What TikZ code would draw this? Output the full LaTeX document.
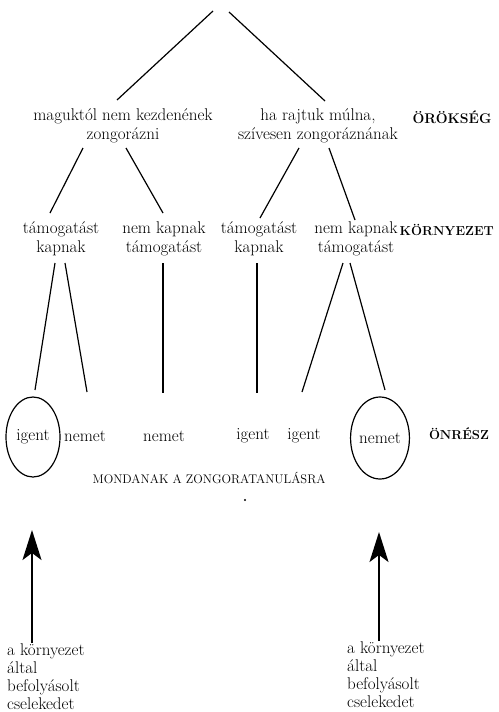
\documentclass[tikz,border=0pt]{standalone}
\usepackage{tikz}
\usetikzlibrary{shapes.geometric,arrows.meta}
\tikzstyle{txt} = [inner sep=0pt, align=center, font=\fontsize{17}{19}\selectfont]
\tikzstyle{lvl} = [inner sep=0pt, font=\bfseries\fontsize{13}{16}\selectfont]
\tikzstyle{line} = [draw, line width=1.2pt]
\tikzstyle{arrow} = [draw, line width=1.6pt, -{Stealth[length=30pt,width=19pt,inset=7pt]}]

\begin{document}
\begin{tikzpicture}[x=1pt, y=-1pt]
        \useasboundingbox (0,0) rectangle (498,712);
        % top
        \coordinate (Ta) at (213,11);
        \coordinate (Tb) at (229,12);
        \node (Mag) [txt] at (123,126) {maguktól nem kezdenének\\zongorázni};
        \node (Ha) [txt] at (318,126) {ha rajtuk múlna,\\szívesen zongoráznának};
        \node (Orok) [lvl, font=\bfseries\fontsize{14}{16}\selectfont] at (452,117) {ÖRÖKSÉG};

        \node (K1) [txt] at (61,239) {támogatást\\kapnak};
        \node (K2) [txt] at (164,239) {nem kapnak\\támogatást};
        \node (K3) [txt] at (259,239) {támogatást\\kapnak};
        \node (K4) [txt] at (356,239) {nem kapnak\\támogatást};
        \node (Korny) [lvl, anchor=east] at (494,230) {KÖRNYEZET};

        \node (I1) [txt, ellipse, draw, line width=1.2pt, minimum width=54pt, minimum height=80pt] at (33,437) {igent};
        \node (N1) [txt] at (85,436) {nemet};
        \node (N2) [txt] at (164,436) {nemet};
        \node (I2) [txt] at (253,436) {igent};
        \node (I3) [txt] at (304,436) {igent};
        \node (N3) [txt, ellipse, draw, line width=1.2pt, minimum width=52pt, minimum height=82pt] at (380,438) {nemet};
        \node (Onr) [lvl] at (459,434) {ÖNRÉSZ};

        \node (Mond) [txt, font=\fontsize{12.5}{15}\selectfont] at (209,478) {MONDANAK A ZONGORATANULÁSRA};
        \fill (245,500) circle (1.2);

        \node (Bl) [txt, align=left, anchor=north west, font=\fontsize{17}{18}\selectfont] at (7,643) {a környezet\\által\\befolyásolt\\cselekedet};
        \node (Br) [txt, align=left, anchor=north west, font=\fontsize{17}{18}\selectfont] at (347,641) {a környezet\\által\\befolyásolt\\cselekedet};
        \coordinate (Al) at (32,530);
        \coordinate (Ar) at (379,532);

        \path [line] (Ta) -- ([shift={(-6,-26)}]Mag.center);
        \path [line] (Tb) -- ([shift={(7,-25)}]Ha.center);
        \path [line] ([shift={(-40,22)}]Mag.center) -- ([shift={(-11,-26)}]K1.center);
        \path [line] ([shift={(3,22)}]Mag.center) -- ([shift={(-1,-26)}]K2.center);
        \path [line] ([shift={(-19,22)}]Ha.center) -- ([shift={(1,-21)}]K3.center);
        \path [line] ([shift={(11,22)}]Ha.center) -- ([shift={(-1,-19)}]K4.center);

        \path [line] ([shift={(-6,24)}]K1.center) -- ([shift={(2,-47)}]I1.center);
        \path [line] ([shift={(4,24)}]K1.center) -- ([shift={(2,-44)}]N1.center);
        \path [line] ([shift={(-1,24)}]K2.center) -- ([shift={(-1,-43)}]N2.center);
        \path [line] ([shift={(-2,24)}]K3.center) -- ([shift={(4,-43)}]I2.center);
        \path [line] ([shift={(-13,24)}]K4.center) -- ([shift={(-2,-44)}]I3.center);
        \path [line] ([shift={(-6,24)}]K4.center) -- ([shift={(5,-48)}]N3.center);

        \path [arrow] (Bl.north west -| Al) -- (Al);
        \path [arrow] (Br.north west -| Ar) -- (Ar);
\end{tikzpicture}
\end{document}
